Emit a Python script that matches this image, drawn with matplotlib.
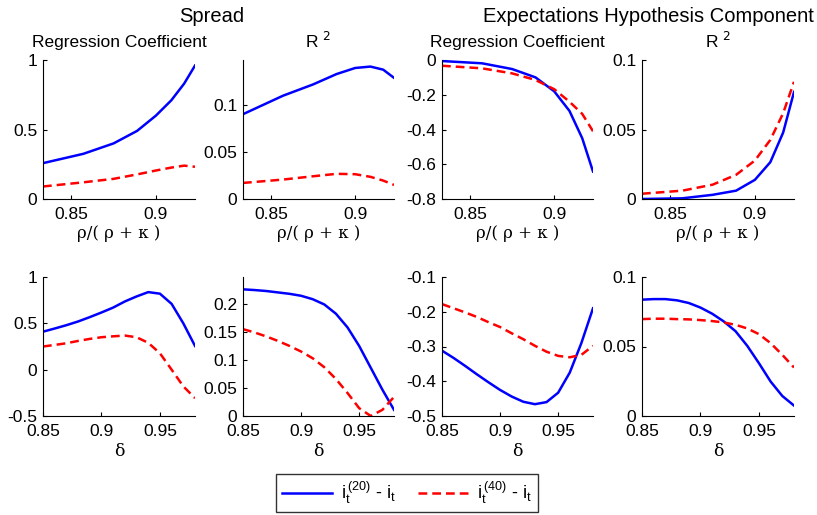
import matplotlib.pyplot as plt
import numpy as np

plt.rcParams['font.family'] = ['Liberation Sans', 'DejaVu Sans']

# datos: eje x de la fila superior rho/(rho+kappa) = n/(n+1), fila inferior delta
x_rho = [5/6, 6/7, 7/8, 8/9, 9/10, 10/11, 11/12, 12/13]
x_delta = [0.85, 0.86, 0.87, 0.88, 0.89, 0.90, 0.91, 0.92, 0.93, 0.94, 0.95, 0.96, 0.97, 0.98]

# Spread - coeficiente de regresion
spread_coef_20 = [0.258, 0.325, 0.40, 0.49, 0.60, 0.71, 0.83, 0.96]
spread_coef_40 = [0.09, 0.12, 0.145, 0.177, 0.205, 0.226, 0.24, 0.232]
# Spread - R2
spread_r2_20 = [0.0903, 0.110, 0.122, 0.133, 0.1395, 0.141, 0.1377, 0.129]
spread_r2_40 = [0.0171, 0.0207, 0.0242, 0.0268, 0.0264, 0.0236, 0.0196, 0.015]
# Expectativas - coeficiente
eh_coef_20 = [-0.006, -0.019, -0.052, -0.10, -0.18, -0.293, -0.45, -0.642]
eh_coef_40 = [-0.033, -0.048, -0.077, -0.115, -0.168, -0.24, -0.31, -0.41]
# Expectativas - R2
eh_r2_20 = [0.0, 0.0005, 0.003, 0.006, 0.0138, 0.0265, 0.0478, 0.077]
eh_r2_40 = [0.0038, 0.006, 0.0103, 0.0174, 0.0277, 0.0425, 0.0617, 0.0843]

# fila inferior (delta)
spread_coef_d20 = [0.41, 0.444, 0.48, 0.52, 0.567, 0.617, 0.67, 0.736, 0.79, 0.837, 0.82, 0.71, 0.50, 0.256]
spread_coef_d40 = [0.25, 0.267, 0.285, 0.31, 0.332, 0.35, 0.36, 0.368, 0.35, 0.29, 0.177, 0.0, -0.18, -0.307]
spread_r2_d20 = [0.226, 0.2247, 0.223, 0.2205, 0.218, 0.2145, 0.2084, 0.199, 0.1825, 0.158, 0.125, 0.086, 0.047, 0.011]
spread_r2_d40 = [0.155, 0.149, 0.142, 0.134, 0.125, 0.115, 0.103, 0.087, 0.066, 0.041, 0.014, 0.0, 0.011, 0.034]
eh_coef_d20 = [-0.312, -0.333, -0.356, -0.38, -0.403, -0.425, -0.444, -0.459, -0.466, -0.46, -0.433, -0.375, -0.29, -0.19]
eh_coef_d40 = [-0.178, -0.19, -0.202, -0.215, -0.23, -0.244, -0.262, -0.279, -0.298, -0.315, -0.327, -0.331, -0.324, -0.298]
eh_r2_d20 = [0.0837, 0.0841, 0.0841, 0.0832, 0.0813, 0.078, 0.0736, 0.068, 0.061, 0.0505, 0.038, 0.0248, 0.0144, 0.0075]
eh_r2_d40 = [0.0697, 0.07, 0.07, 0.0697, 0.0695, 0.069, 0.0683, 0.0673, 0.0656, 0.063, 0.0589, 0.0524, 0.044, 0.0349]

label_20 = r'$\mathregular{i_t^{\,(20)}}$ - $\mathregular{i_t}$'
label_40 = r'$\mathregular{i_t^{\,(40)}}$ - $\mathregular{i_t}$'

W, H = 817, 515
fig = plt.figure(figsize=(W/100, H/100), dpi=100)

cols = [(43, 195), (243, 394), (442, 593), (642, 794)]
rows = [(60, 199), (277, 416)]

def add_ax(col, row):
    x0, x1 = cols[col]
    y0, y1 = rows[row]
    ax = fig.add_axes([x0/W, 1 - y1/H, (x1-x0)/W, (y1-y0)/H])
    ax.spines['top'].set_visible(False)
    ax.spines['right'].set_visible(False)
    ax.tick_params(direction='in', length=3, labelsize=12.5)
    ax.tick_params(axis='y', pad=4)
    ax.tick_params(axis='x', pad=6)
    return ax

top = [
    (spread_coef_20, spread_coef_40, (0, 1), [0, 0.5, 1], ['0', '0.5', '1'], 'Regression Coefficient'),
    (spread_r2_20, spread_r2_40, (0, 0.148), [0, 0.05, 0.1], ['0', '0.05', '0.1'], 'R $^2$'),
    (eh_coef_20, eh_coef_40, (-0.8, 0), [-0.8, -0.6, -0.4, -0.2, 0], ['-0.8', '-0.6', '-0.4', '-0.2', '0'], 'Regression Coefficient'),
    (eh_r2_20, eh_r2_40, (0, 0.1), [0, 0.05, 0.1], ['0', '0.05', '0.1'], 'R $^2$'),
]
bottom = [
    (spread_coef_d20, spread_coef_d40, (-0.5, 1), [-0.5, 0, 0.5, 1], ['-0.5', '0', '0.5', '1']),
    (spread_r2_d20, spread_r2_d40, (0, 0.248), [0, 0.05, 0.1, 0.15, 0.2], ['0', '0.05', '0.1', '0.15', '0.2']),
    (eh_coef_d20, eh_coef_d40, (-0.5, -0.1), [-0.5, -0.4, -0.3, -0.2, -0.1], ['-0.5', '-0.4', '-0.3', '-0.2', '-0.1']),
    (eh_r2_d20, eh_r2_d40, (0, 0.1), [0, 0.05, 0.1], ['0', '0.05', '0.1']),
]

for i, (a, b, yl, yt, ytl, title) in enumerate(top):
    ax = add_ax(i, 0)
    l1, = ax.plot(x_rho, a, color='#0000ff', lw=1.8)
    l2, = ax.plot(x_rho, b, color='#ff0000', lw=1.8, ls=(0, (3.5, 2)))
    ax.set_xlim(x_rho[0], x_rho[-1])
    ax.set_ylim(*yl)
    ax.set_yticks(yt, ytl)
    ax.set_xticks([0.85, 0.9], ['0.85', '0.9'])
    ax.set_title(title, fontsize=12.5, pad=9)
    ax.set_xlabel('ρ/( ρ + κ )', fontsize=12, family='DejaVu Serif', labelpad=2)

for i, (a, b, yl, yt, ytl) in enumerate(bottom):
    ax = add_ax(i, 1)
    ax.plot(x_delta, a, color='#0000ff', lw=1.8)
    ax.plot(x_delta, b, color='#ff0000', lw=1.8, ls=(0, (3.5, 2)))
    ax.set_xlim(0.85, 0.98)
    ax.set_ylim(*yl)
    ax.set_yticks(yt, ytl)
    ax.set_xticks([0.85, 0.9, 0.95], ['0.85', '0.9', '0.95'])
    ax.set_xlabel('δ', fontsize=12.5, family='DejaVu Serif', labelpad=3)

fig.text(212/W, 1 - 16/H, 'Spread', ha='center', va='center', fontsize=14.5)
fig.text(648/W, 1 - 16/H, 'Expectations Hypothesis Component', ha='center', va='center', fontsize=14.5)

leg = fig.legend([l1, l2], [label_20, label_40], loc='center', ncol=2,
                 bbox_to_anchor=(407/W, 1 - 493/H), fontsize=13, frameon=True,
                 fancybox=False, edgecolor='black', handlelength=2.8, columnspacing=1.2,
                 handletextpad=0.5, borderpad=0.3)
leg.get_frame().set_linewidth(1.0)

fig.savefig('out.png', dpi=100)
